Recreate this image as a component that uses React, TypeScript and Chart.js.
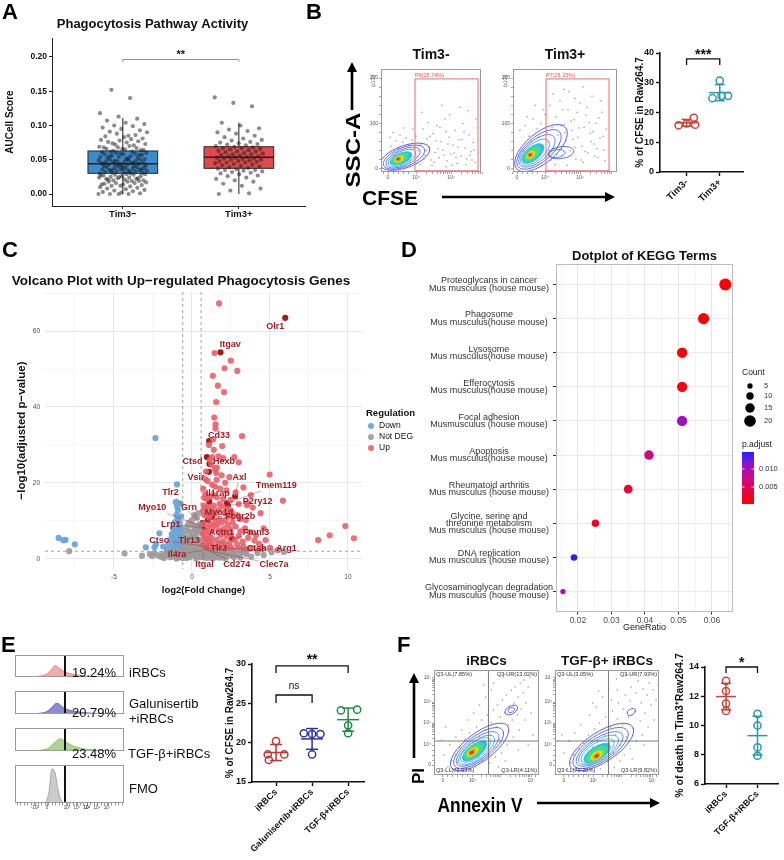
import React, { useEffect, useRef } from 'react';
import { Chart, registerables } from 'chart.js';

Chart.register(...registerables);

const FONT = "'Liberation Sans', Arial, Helvetica, sans-serif";
Chart.defaults.font.family = FONT;
Chart.defaults.color = '#222';

/* ============================ DATA ============================ */

/* ---- Panel A : AUCell phagocytosis scores ---- */
const aTitle = 'Phagocytosis Pathway Activity';
const aCategories = ['Tim3−', 'Tim3+'];
const aYTitle = 'AUCell Score';
const aYTicks = [0, 0.05, 0.1, 0.15, 0.2];
const aTim3NegScores = [
  0.000, 0.000, 0.000, 0.001, 0.002, 0.003, 0.004, 0.005, 0.006, 0.007, 0.008, 0.009, 0.000, 0.010,
  0.011, 0.012, 0.013, 0.014, 0.015, 0.016, 0.016, 0.017, 0.018, 0.018, 0.019, 0.012, 0.014, 0.019, 0.020, 0.020,
  0.021, 0.022, 0.022, 0.023, 0.024, 0.024, 0.025, 0.026, 0.026, 0.027, 0.028, 0.028, 0.029, 0.029, 0.021, 0.023, 0.025, 0.027,
  0.030, 0.031, 0.031, 0.032, 0.032, 0.033, 0.033, 0.034, 0.034, 0.035, 0.035, 0.036, 0.036, 0.037, 0.037, 0.038, 0.038, 0.039, 0.039, 0.040, 0.030, 0.032, 0.034, 0.036, 0.038,
  0.041, 0.041, 0.042, 0.042, 0.043, 0.043, 0.044, 0.044, 0.045, 0.045, 0.046, 0.046, 0.047, 0.047, 0.048, 0.048, 0.049, 0.049, 0.050, 0.050, 0.042, 0.044, 0.046, 0.048,
  0.051, 0.051, 0.052, 0.053, 0.054, 0.054, 0.055, 0.056, 0.057, 0.058, 0.058, 0.059, 0.060, 0.060, 0.052, 0.055, 0.057, 0.059,
  0.061, 0.062, 0.063, 0.064, 0.065, 0.066, 0.067, 0.068, 0.069, 0.070, 0.062, 0.064, 0.066, 0.068,
  0.071, 0.072, 0.073, 0.075, 0.076, 0.077, 0.078, 0.079, 0.080, 0.074,
  0.081, 0.083, 0.084, 0.086, 0.088, 0.090, 0.085,
  0.091, 0.093, 0.095, 0.097, 0.099, 0.100,
  0.102, 0.104, 0.107, 0.110, 0.113, 0.118, 0.140, 0.152,
];
const aTim3PosScores = [
  0.000, 0.001, 0.005, 0.008, 0.012, 0.015, 0.018, 0.020,
  0.022, 0.024, 0.026, 0.027, 0.029, 0.030, 0.031, 0.032, 0.033, 0.034, 0.035, 0.035,
  0.036, 0.037, 0.038, 0.039, 0.040, 0.041, 0.042, 0.043, 0.044, 0.045, 0.046, 0.046, 0.047, 0.048, 0.048, 0.049, 0.050, 0.050,
  0.051, 0.052, 0.052, 0.053, 0.053, 0.054, 0.055, 0.055, 0.056, 0.057, 0.058, 0.058, 0.059, 0.060, 0.061, 0.062, 0.062, 0.063, 0.064, 0.065,
  0.066, 0.067, 0.067, 0.068, 0.069, 0.070, 0.071, 0.072, 0.073, 0.074, 0.075, 0.076, 0.078, 0.079,
  0.081, 0.083, 0.085, 0.088, 0.090, 0.092, 0.094, 0.096, 0.100, 0.104,
  0.128, 0.133, 0.141,
];
const aBoxQ1 = [0.0302, 0.0375];
const aBoxMedian = [0.0442, 0.0536];
const aBoxQ3 = [0.0628, 0.069];
const aWhiskerLow = [0, 0];
const aWhiskerHigh = [0.111, 0.104];
const aBoxColors = ['#3a8ccc', '#df4a4a'];
const aSignif = '**';
const aBracketY = 0.1963;

/* ---- Panel B : CFSE flow + quantification ---- */
const bFlowTitles = ['Tim3-', 'Tim3+'];
const bGateLabels = ['P6(15.74%)', 'P7(26.15%)'];
const bGateX = [[27, 90], [29, 92]];
const bGateY = [-4, 198];
const bCfseMajor = [0, 28, 63];
const bCfseMajorLabels = ['0', '10⁴', '10⁵'];
const bSscMajor = [0, 100, 200];
const bTim3NegEvents = [
  [2, 70], [5, 80], [8, 62], [12, 75], [15, 58], [18, 68], [21, 52], [24, 64], [26, 45], [28, 72], [30, 40], [33, 55], [35, 88], [37, 30],
  [39, 66], [41, 48], [43, 20], [45, 78], [47, 36], [49, 95], [51, 25], [53, 60], [55, 42], [57, 110], [59, 18], [61, 70], [63, 33], [65, 52],
  [67, 85], [69, 12], [71, 64], [73, 28], [75, 100], [77, 46], [79, 22], [81, 75], [83, 38], [85, 58], [87, 15], [89, 90], [32, 10], [36, 22],
  [44, 8], [50, 45], [58, 5], [62, 120], [66, 35], [70, 48], [74, 65], [78, 10], [82, 30], [86, 42], [88, 110], [34, 125], [46, 15], [52, 92],
  [60, 55], [68, 25], [76, 82], [84, 20], [54, 140], [72, 135], [80, 128], [40, 102], [48, 62], [56, 30], [64, 8], [20, 35], [10, 45], [6, 30],
  [16, 90], [25, 88], [3, 50], [9, 20], [13, 10], [22, 18], [29, 28], [38, 40], [42, 72], [58, 82],
];
const bTim3PosEvents = [
  [3, 85], [8, 95], [12, 72], [16, 110], [20, 88], [24, 100], [28, 120], [31, 60], [33, 140], [35, 92], [37, 45], [39, 115], [41, 75], [43, 150],
  [45, 30], [47, 98], [49, 62], [51, 130], [53, 40], [55, 85], [57, 108], [59, 22], [61, 70], [63, 145], [65, 50], [67, 92], [69, 118], [71, 35],
  [73, 78], [75, 160], [77, 55], [79, 100], [81, 25], [83, 68], [85, 125], [87, 42], [89, 88], [34, 20], [38, 10], [42, 55], [46, 130], [50, 8],
  [54, 105], [58, 48], [62, 90], [66, 15], [70, 135], [74, 60], [78, 28], [82, 112], [86, 72], [36, 165], [44, 95], [52, 170], [60, 125], [68, 38],
  [76, 82], [84, 150], [88, 18], [40, 32], [48, 80], [56, 65], [64, 20], [72, 102], [80, 45], [30, 80], [26, 130], [18, 140], [14, 60], [6, 40],
  [10, 115], [22, 70], [32, 40], [47, 175], [66, 180], [58, 155],
];
const bTim3NegContours = [
  { cx: 17, cy: 27, rx: 26, ry: 11, rot: -20, stroke: '#3535f0' },
  { cx: 16, cy: 26, rx: 22, ry: 9.5, rot: -22, stroke: '#3a4cf2' },
  { cx: 15, cy: 25, rx: 18.5, ry: 8, rot: -24, stroke: '#3868f0' },
  { cx: 14, cy: 24, rx: 15, ry: 6.8, rot: -25, stroke: '#2f8cf0' },
  { cx: 13, cy: 23, rx: 12, ry: 5.8, rot: -25, fill: '#33bdea' },
  { cx: 12, cy: 23, rx: 9.5, ry: 4.8, rot: -25, fill: '#36dcb0' },
  { cx: 11.5, cy: 22, rx: 7, ry: 3.8, rot: -25, fill: '#62e048' },
  { cx: 11, cy: 22, rx: 5, ry: 2.9, rot: -25, fill: '#cde52c' },
  { cx: 10.5, cy: 22, rx: 3.2, ry: 2.1, rot: -25, fill: '#ffa020' },
  { cx: 10, cy: 22, rx: 1.8, ry: 1.3, rot: -25, fill: '#ff2a12' },
];
const bTim3PosContours = [
  { cx: 24, cy: 46, rx: 32, ry: 15, rot: -40, stroke: '#3535f0' },
  { cx: 22, cy: 43, rx: 27, ry: 12.5, rot: -40, stroke: '#3a4cf2' },
  { cx: 20, cy: 40, rx: 22, ry: 10.5, rot: -40, stroke: '#3868f0' },
  { cx: 18, cy: 37, rx: 17.5, ry: 8.5, rot: -40, stroke: '#2f8cf0' },
  { cx: 44, cy: 36, rx: 13, ry: 6, rot: -8, stroke: '#3a4cf2' },
  { cx: 40, cy: 34, rx: 8, ry: 4, rot: -8, stroke: '#3868f0' },
  { cx: 16, cy: 34, rx: 13.5, ry: 7, rot: -40, fill: '#33bdea' },
  { cx: 15, cy: 33, rx: 10.5, ry: 5.6, rot: -40, fill: '#36dcb0' },
  { cx: 14, cy: 32, rx: 7.8, ry: 4.3, rot: -40, fill: '#62e048' },
  { cx: 13.5, cy: 31, rx: 5.3, ry: 3.2, rot: -40, fill: '#cde52c' },
  { cx: 13, cy: 31, rx: 3.4, ry: 2.2, rot: -40, fill: '#ffa020' },
  { cx: 13, cy: 31, rx: 1.8, ry: 1.3, rot: -40, fill: '#ff2a12' },
];
const bGroups = ['Tim3-', 'Tim3+'];
const bTim3NegCfse = [15.7, 16.3, 18.2, 15.9];
const bTim3PosCfse = [30.7, 24.8, 25.6, 25.6];
const bSpread = [[-0.24, 0, 0.22, 0.26], [0, -0.22, 0.05, 0.25]];
const bSignif = '***';

/* ---- Panel C : volcano ---- */
const cTitle = 'Volcano Plot with Up−regulated Phagocytosis Genes';
const volcanoFcCutoffs = [-0.585, 0.585];
const volcanoPCutoff = 2;
const volcanoNotDeg = [
  [-7.87, 2.0], [-4.32, 1.4], [-2.55, 0.7], [-2.2, 0.9], [-1.9, 1.3], [-1.7, 0.6], [-1.5, 1.6], [-1.4, 0.4], [-1.3, 1.1], [-1.2, 1.8],
  [-1.1, 0.8], [-1.0, 1.5], [-0.95, 0.3], [-0.9, 1.9], [-0.85, 1.0], [-0.8, 0.5], [-0.75, 1.8], [-0.7, 1.7], [-0.6, 0.2], [-0.55, 1.3],
  [-0.5, 2.2], [-0.45, 3.5], [-0.4, 0.7], [-0.35, 4.2], [-0.3, 1.9], [-0.25, 5.1], [-0.2, 2.8], [-0.15, 0.4], [-0.1, 6.0], [-0.05, 3.6],
  [0.0, 1.2], [0.05, 7.0], [0.1, 4.5], [0.15, 2.3], [0.2, 8.2], [0.25, 5.5], [0.3, 0.8], [0.35, 6.8], [0.4, 3.2], [0.45, 9.0], [0.5, 5.0],
  [0.55, 1.6], [-0.55, 4.8], [-0.5, 6.2], [-0.4, 7.5], [-0.3, 8.6], [-0.2, 9.5], [0.0, 10.2], [0.1, 8.8], [0.6, 0.9], [0.7, 1.4], [0.8, 0.3],
  [0.9, 1.8], [1.0, 0.6], [1.1, 1.2], [1.2, 0.2], [1.3, 1.7], [1.4, 0.8], [1.5, 1.4], [1.6, 0.4], [1.7, 1.9], [1.8, 1.0], [1.9, 0.5],
  [2.0, 1.6], [2.1, 1.1], [2.2, 0.3], [2.4, 1.3], [2.6, 0.7], [2.8, 1.5], [3.0, 0.9], [3.2, 1.8], [3.5, 1.2], [3.8, 0.6], [4.2, 1.5],
  [4.6, 1.0], [5.1, 1.7], [5.9, 1.8], [-1.6, 1.9], [-1.8, 0.2], [-2.0, 0.5], [-0.5, 2.6], [-0.35, 0.2], [0.25, 0.1], [0.45, 1.0],
  [-0.15, 7.2], [0.3, 10.8], [0.15, 11.5], [-0.05, 9.0], [0.4, 12.0],
  [-1.4, 1.8], [-1.25, 0.6], [-1.15, 1.5], [-0.98, 1.2], [-0.88, 0.4], [-0.78, 1.3], [-0.68, 0.9], [-0.58, 1.9], [-0.45, 1.5], [-0.35, 2.7],
  [-0.25, 1.0], [-0.12, 3.2], [0.02, 2.5], [0.12, 3.8], [0.22, 1.7], [0.32, 4.2], [0.42, 2.0], [0.52, 3.0], [0.08, 5.8], [0.28, 7.5],
  [0.48, 7.8], [-0.18, 4.5], [-0.42, 5.5], [0.65, 0.5], [0.75, 1.8], [0.85, 1.1], [0.95, 0.2], [1.05, 1.7], [1.15, 0.7], [1.25, 1.3],
  [1.35, 0.1], [1.45, 1.9], [1.55, 0.9], [1.65, 1.2], [1.75, 0.3], [1.85, 1.6], [1.95, 1.9], [2.05, 0.2], [2.3, 1.8], [2.5, 1.0],
  [2.7, 0.4], [2.9, 1.8], [3.1, 0.3], [3.4, 1.6], [-2.4, 1.5], [-2.7, 1.2], [-3.2, 0.8], [-1.0, 0.1], [0.5, 0.4], [0.15, 0.9],
];
const volcanoDown = [
  [-8.55, 5.5], [-8.25, 4.9], [-8.1, 5.0], [-7.51, 3.8], [-2.34, 31.8], [-0.96, 19.6], [-1.04, 14.9], [-0.74, 14.6], [-0.9, 12.8],
  [-1.0, 11.5], [-0.85, 11.0], [-0.95, 10.2], [-1.1, 9.6], [-0.8, 9.0], [-0.9, 8.2], [-1.05, 7.6], [-0.75, 7.2], [-0.88, 6.6], [-1.15, 6.0],
  [-0.8, 5.6], [-0.95, 5.0], [-1.1, 4.4], [-0.78, 4.2], [-0.9, 3.6], [-1.0, 3.0], [-0.7, 2.6], [-2.09, 6.7], [-2.3, 3.8], [-2.4, 3.0],
  [-2.96, 3.0], [-1.5, 4.0], [-1.35, 5.2], [-1.25, 3.3], [-0.82, 8.6],
  [-0.7, 3.4], [-0.72, 5.0], [-0.76, 6.0], [-0.68, 8.0], [-0.85, 9.8], [-1.2, 8.0], [-1.3, 6.5], [-0.65, 4.4], [-0.95, 13.8], [-0.7, 11.2],
  [-1.2, 2.4], [-1.6, 2.6], [-1.85, 3.2],
];
const volcanoUp = [
  [1.74, 67.3], [1.45, 54.2], [2.49, 52.2], [2.09, 50.2], [2.91, 49.5], [1.34, 48.2], [1.66, 45.6], [2.06, 43.9], [1.55, 41.3], [1.43, 37.2],
  [1.51, 35.4], [1.51, 34.3], [3.21, 32.3], [1.36, 31.4], [1.94, 29.7], [1.4, 28.7], [1.3, 26.8], [1.7, 27.0], [2.72, 26.8], [3.0, 25.4],
  [1.25, 24.8], [1.48, 23.6], [1.55, 22.6], [4.98, 22.2], [2.13, 20.0], [3.3, 18.8], [3.77, 16.8], [5.83, 15.3], [3.53, 14.1], [2.47, 15.5],
  [3.0, 14.4], [3.57, 14.6], [2.55, 12.3], [1.8, 18.5], [1.3, 19.5], [1.0, 20.5], [0.85, 17.0], [1.2, 16.5], [1.6, 16.2], [2.0, 15.8],
  [0.9, 13.5], [1.3, 13.0], [1.7, 12.8], [2.1, 12.0], [2.6, 11.0], [3.1, 10.5], [0.8, 11.5], [1.1, 10.8], [1.5, 10.0], [1.9, 9.6],
  [2.3, 9.0], [2.8, 8.5], [3.4, 8.0], [0.75, 9.2], [1.0, 8.4], [1.3, 7.8], [1.7, 7.5], [2.1, 7.0], [2.5, 6.5], [3.0, 6.0], [3.6, 5.5],
  [4.0, 4.8], [0.7, 6.5], [0.95, 6.0], [1.25, 5.5], [1.6, 5.0], [2.0, 4.6], [2.4, 4.2], [2.9, 3.8], [3.3, 3.2], [3.8, 2.8], [4.3, 3.9],
  [4.72, 4.9], [5.0, 2.9], [5.5, 2.3], [0.68, 4.5], [0.9, 4.0], [1.2, 3.5], [1.5, 3.0], [1.8, 2.6], [2.2, 2.3], [2.7, 2.2], [3.5, 2.4],
  [4.5, 2.6], [0.65, 3.0], [0.8, 2.4], [1.05, 2.2], [8.09, 4.9], [8.83, 6.2], [9.83, 8.6], [10.38, 5.4], [4.2, 2.1], [1.1, 30.0],
  [1.6, 24.0], [2.4, 21.5], [1.9, 22.0], [0.9, 23.0], [2.2, 18.0], [2.8, 17.5], [3.9, 13.5], [4.4, 12.0], [1.4, 14.0], [2.3, 13.2],
  [0.95, 15.8], [1.15, 26.0], [2.0, 26.5],
  [0.7, 12.5], [0.75, 14.0], [0.8, 16.0], [0.72, 18.5], [0.85, 21.0], [0.9, 7.2], [1.0, 5.2], [1.1, 4.8], [1.2, 9.0], [1.35, 11.8],
  [1.45, 8.8], [1.55, 12.0], [1.65, 9.0], [1.75, 10.5], [1.85, 6.2], [1.95, 13.8], [2.05, 8.0], [2.15, 10.2], [2.25, 5.8], [2.35, 11.2],
  [2.45, 7.8], [2.6, 9.6], [2.75, 5.0], [2.9, 11.5], [3.1, 7.2], [3.25, 4.5], [3.45, 10.2], [3.7, 7.0], [4.1, 6.2], [4.6, 8.0],
  [0.66, 7.0], [0.78, 5.5], [0.88, 3.4], [0.98, 11.9], [1.08, 13.6], [1.18, 6.9], [1.28, 4.2], [1.38, 16.8], [1.48, 19.0], [1.58, 20.8],
  [1.68, 3.8], [1.78, 14.5], [1.88, 4.0], [2.5, 3.0], [3.0, 2.8], [2.2, 3.5], [1.4, 2.5], [1.9, 2.2], [2.4, 2.6], [0.95, 2.8],
];
const volcanoGeneNames = ['Olr1', 'Itgav', 'Cd33', 'Ctsd', 'Hexb', 'Vsir', 'Axl', 'Tmem119', 'Tlr2', 'Il1rap', 'P2ry12', 'Myo10', 'Grn', 'Myo1d',
  'Fcgr2b', 'Lrp1', 'Actn1', 'Fmnl3', 'Ctso', 'Tlr13', 'Ctsh', 'Arg1', 'Il4ra', 'Tlr3', 'Itgal', 'Cd274', 'Clec7a'];
const volcanoGeneLog2FC = [5.98, 1.83, 1.10, 0.96, 1.12, 1.09, 2.77, 2.24, 0.64, 1.11, 2.30, 0.60, 0.70, 1.28, 1.03, 0.62, 0.72, 2.56, 0.70,
  0.68, 0.74, 3.19, 0.66, 0.72, 0.70, 0.76, 0.78];
const volcanoGeneNegLogP = [63.5, 54.4, 31.0, 26.8, 25.0, 22.9, 16.5, 14.6, 8.9, 15.0, 14.0, 8.6, 9.4, 11.1, 10.3, 8.2, 8.0, 5.3, 3.4, 3.0,
  2.6, 2.1, 2.2, 3.3, 2.0, 2.8, 2.4];
const volcanoLabelX = [5.34, 2.45, 1.74, 0.04, 2.06, 0.26, 3.04, 5.4, -1.38, 1.66, 4.21, -2.55, -0.19, 1.74, 3.09, -1.36, 1.89, 4.11, -2.09,
  -0.17, 4.15, 6.06, -0.96, 1.72, 0.81, 2.87, 5.26];
const volcanoLabelY = [61.1, 56.5, 32.5, 25.5, 25.5, 21.4, 21.4, 19.3, 17.5, 17.2, 15.2, 13.4, 13.4, 12.3, 11.1, 9.1, 6.9, 6.9, 4.9, 4.9,
  2.7, 2.7, 1.0, 2.7, -1.4, -1.4, -1.4];
const volcanoLegendLabels = ['Down', 'Not DEG', 'Up'];
const volcanoColors = ['rgba(107,165,216,0.95)', 'rgba(155,155,155,0.9)', 'rgba(232,98,106,0.9)'];
const volcanoHighlightColor = '#9e1b1f';
const volcanoXTicks = [-7.5, -5, -2.5, 0, 2.5, 5, 7.5, 10];
const volcanoYTicks = [0, 10, 20, 30, 40, 50, 60, 70];

/* ---- Panel D : KEGG dot plot ---- */
const dTitle = 'Dotplot of KEGG Terms';
const keggTerms = [
  ['Proteoglycans in cancer', 'Mus musculus (house mouse)'],
  ['Phagosome', 'Mus musculus(house mouse)'],
  ['Lysosome', 'Mus musculus(house mouse)'],
  ['Efferocytosis', 'Mus musculus(house mouse)'],
  ['Focal adhesion', 'Musmusculus (house mouse)'],
  ['Apoptosis', 'Mus musculus(house mouse)'],
  ['Rheumatoid arthritis', 'Mus musculus (house mouse)'],
  ['Glycine, serine and', 'threonine metabolism', 'Mus musculus (house mouse)'],
  ['DNA replication', 'Mus musculus (house mouse)'],
  ['Glycosaminoglycan degradation', 'Mus musculus (house mouse)'],
];
const keggGeneRatio = [0.064, 0.0575, 0.0511, 0.0511, 0.0511, 0.0412, 0.035, 0.0252, 0.0188, 0.0155];
const keggCount = [21, 19, 17, 17, 17, 15, 13, 10, 8, 5];
const keggPAdjust = [0.0004, 0.0006, 0.0008, 0.0012, 0.0105, 0.0075, 0.0028, 0.002, 0.0145, 0.0095];
const keggPRange = [0.0003, 0.0147];
const keggPLegendTicks = [0.005, 0.01];
const keggCountLegend = [5, 10, 15, 20];
const keggXTicks = [0.015, 0.02, 0.025, 0.03, 0.035, 0.04, 0.045, 0.05, 0.055, 0.06, 0.065];

/* ---- Panel E : CFSE histograms + quantification ---- */
const eHistSamples = ['iRBCs', 'Galunisertib\n+iRBCs', 'TGF-β+iRBCs', 'FMO'];
const eHistPercents = ['19.24%', '20.79%', '23.48%', ''];
const eHistBins = [5, 10, 15, 20, 25, 28, 31, 34, 37, 40, 43, 46, 49, 52, 55, 58, 62, 66, 70, 75, 80, 85, 90, 100];
const eHistIrbcs = [0, 0.005, 0.01, 0.02, 0.04, 0.07, 0.12, 0.22, 0.38, 0.51, 0.45, 0.34, 0.25, 0.19, 0.15, 0.12, 0.09, 0.07, 0.05, 0.035, 0.025, 0.015, 0.01, 0];
const eHistGalunisertib = [0, 0.005, 0.01, 0.015, 0.03, 0.05, 0.09, 0.17, 0.3, 0.44, 0.46, 0.36, 0.26, 0.2, 0.16, 0.13, 0.1, 0.075, 0.055, 0.04, 0.028, 0.018, 0.01, 0];
const eHistTgf = [0, 0.005, 0.01, 0.02, 0.03, 0.05, 0.08, 0.14, 0.25, 0.38, 0.5, 0.53, 0.45, 0.36, 0.28, 0.22, 0.16, 0.12, 0.085, 0.06, 0.04, 0.025, 0.012, 0];
const eHistFmo = [0, 0, 0, 0, 0, 0, 0.04, 0.3, 0.9, 0.8, 0.35, 0.08, 0.01, 0, 0, 0, 0, 0, 0, 0, 0, 0, 0, 0];
const eHistGate = 50;
const eHistMajor = [20, 32, 52, 62, 72, 82, 92];
const eHistMajorLabels = ['-10²', '0', '10³', '10⁴', '10⁵', '10⁶', '10⁷'];
const eGroups = ['iRBCs', 'Galunisertib+iRBCs', 'TGF-β+iRBCs'];
const eIrbcs = [20.2, 18.5, 18.5, 17.8];
const eGalunisertib = [21.2, 21.1, 21.1, 18.5];
const eTgf = [24.1, 24.2, 22.2, 21.2];
const eSpread = [[0, -0.23, 0.23, -0.2], [-0.23, 0, 0.23, 0], [-0.2, 0.25, 0, 0]];

/* ---- Panel F : Annexin V / PI ---- */
const fFlowTitles = ['iRBCs', 'TGF-β+ iRBCs'];
const fQuadrantLabels = [
  ['Q3-UL(7.85%)', 'Q3-UR(13.02%)', 'Q3-LL(75.03%)', 'Q3-LR(4.11%)'],
  ['Q3-UL(3.05%)', 'Q3-UR(7.93%)', 'Q3-LL(79.20%)', 'Q3-LR(9.82%)'],
];
const fAnnexinGate = [55, 54];
const fPiGate = 34;
const fAnnexinMajor = [9, 39, 68, 98];
const fAnnexinLabels = ['0', '10⁵', '10⁶', '10⁷'];
const fPiMajor = [10, 30, 52, 73, 97];
const fPiLabels = ['0', '10⁴', '10⁵', '10⁶', '10⁷'];
const fIrbcsEvents = [
  [14, 8], [18, 14], [20, 5], [22, 20], [24, 12], [26, 28], [28, 6], [30, 18], [31, 35], [33, 10], [35, 25], [36, 42], [38, 16], [40, 32],
  [42, 8], [43, 48], [45, 22], [46, 38], [48, 55], [49, 14], [51, 30], [52, 45], [54, 60], [55, 20], [57, 40], [58, 52], [60, 65], [61, 28],
  [63, 48], [64, 70], [66, 35], [67, 58], [69, 75], [70, 42], [72, 62], [73, 80], [75, 50], [76, 68], [78, 85], [79, 55], [81, 72], [82, 88],
  [84, 60], [85, 78], [87, 92], [88, 66], [90, 82], [91, 95], [93, 72], [95, 88], [97, 98], [56, 12], [62, 18], [68, 22], [74, 30], [80, 38],
  [86, 45], [92, 55], [98, 62], [34, 55], [40, 62], [46, 70], [52, 78], [58, 85], [28, 45], [22, 38], [16, 30], [10, 20], [8, 35], [12, 48],
  [65, 8], [72, 14], [85, 25], [100, 40], [95, 30], [60, 92], [70, 98], [50, 90],
];
const fTgfEvents = [
  [12, 6], [16, 12], [19, 20], [21, 8], [24, 26], [27, 14], [29, 32], [31, 4], [32, 20], [34, 40], [36, 10], [38, 28], [40, 46], [41, 16],
  [43, 34], [45, 52], [46, 6], [48, 24], [50, 40], [51, 58], [53, 14], [55, 32], [56, 48], [58, 64], [59, 22], [61, 40], [63, 56], [64, 72],
  [66, 30], [68, 50], [69, 66], [71, 80], [72, 38], [74, 58], [76, 74], [77, 88], [79, 46], [81, 64], [82, 82], [84, 94], [86, 54], [87, 72],
  [89, 86], [91, 62], [93, 80], [95, 92], [97, 70], [99, 85], [60, 8], [66, 14], [70, 20], [76, 26], [82, 34], [88, 40], [94, 48], [100, 55],
  [35, 60], [42, 68], [48, 78], [54, 86], [26, 50], [20, 42], [14, 34], [9, 22], [7, 40], [62, 96], [72, 100], [44, 84], [102, 75], [104, 90],
  [90, 30], [78, 16], [57, 75], [63, 85], [38, 72],
];
const fIrbcsContours = [
  { cx: 46, cy: 28, rx: 35, ry: 14, rot: -37, stroke: '#3535f0' },
  { cx: 45, cy: 27, rx: 30, ry: 12, rot: -37, stroke: '#3a4cf2' },
  { cx: 44, cy: 26, rx: 25.5, ry: 10.3, rot: -37, stroke: '#3868f0' },
  { cx: 43, cy: 25, rx: 21.5, ry: 8.8, rot: -37, stroke: '#2f8cf0' },
  { cx: 42, cy: 25, rx: 18, ry: 7.5, rot: -37, stroke: '#2aa8ee' },
  { cx: 78, cy: 65, rx: 7, ry: 4, rot: -30, stroke: '#3535f0' },
  { cx: 78, cy: 65, rx: 3.5, ry: 2.2, rot: -30, stroke: '#3a4cf2' },
  { cx: 41, cy: 24, rx: 15, ry: 6.5, rot: -37, fill: '#33bdea' },
  { cx: 40, cy: 24, rx: 12, ry: 5.3, rot: -37, fill: '#36dcb0' },
  { cx: 39.5, cy: 23.5, rx: 9.3, ry: 4.3, rot: -37, fill: '#62e048' },
  { cx: 39, cy: 23, rx: 6.8, ry: 3.4, rot: -37, fill: '#cde52c' },
  { cx: 38.5, cy: 23, rx: 4.4, ry: 2.5, rot: -37, fill: '#ffa020' },
  { cx: 38, cy: 22.5, rx: 2.4, ry: 1.6, rot: -37, fill: '#ff2a12' },
];
const fTgfContours = [
  { cx: 47, cy: 28, rx: 37, ry: 15, rot: -33, stroke: '#3535f0' },
  { cx: 46, cy: 27, rx: 32, ry: 13, rot: -33, stroke: '#3a4cf2' },
  { cx: 45, cy: 26, rx: 27, ry: 11, rot: -33, stroke: '#3868f0' },
  { cx: 44, cy: 25, rx: 23, ry: 9.5, rot: -33, stroke: '#2f8cf0' },
  { cx: 43, cy: 24, rx: 19, ry: 8, rot: -33, stroke: '#2aa8ee' },
  { cx: 77, cy: 63, rx: 4.5, ry: 3, rot: -30, stroke: '#3535f0' },
  { cx: 42.5, cy: 22, rx: 15.5, ry: 7, rot: -33, fill: '#33bdea' },
  { cx: 42, cy: 21, rx: 12.5, ry: 6, rot: -33, fill: '#36dcb0' },
  { cx: 42, cy: 20, rx: 9.5, ry: 4.9, rot: -33, fill: '#62e048' },
  { cx: 42, cy: 19.5, rx: 6.8, ry: 3.8, rot: -33, fill: '#cde52c' },
  { cx: 42, cy: 19, rx: 4.3, ry: 2.6, rot: -33, fill: '#ffa020' },
  { cx: 42, cy: 19, rx: 2.3, ry: 1.5, rot: -33, fill: '#ff2a12' },
];
const fGroups = ['iRBCs', 'TGF-β+iRBCs'];
const fIrbcsDeath = [13.05, 12.36, 11.5, 11.0];
const fTgfDeath = [10.8, 10.0, 8.5, 7.93];
const fSpread = [[0, 0, 0, 0], [0, 0, 0, 0]];

/* ============================ HELPERS ============================ */

const fixSize = (size: number) => (scale: any) => {
  if (scale.isHorizontal()) scale.height = size;
  else scale.width = size;
  scale.paddingLeft = 0;
  scale.paddingRight = 0;
  scale.paddingTop = 0;
  scale.paddingBottom = 0;
};
const setTicks = (vals: number[]) => (scale: any) => {
  scale.ticks = vals.map((v) => ({ value: v }));
};
const labelFor = (v: number, majors: number[], labels: string[]) => {
  const i = majors.findIndex((m) => Math.abs(m - v) < 1e-9);
  return i >= 0 ? labels[i] : '';
};
const logMinors = (start: number, perDecade: number, decades: number, limit: number) => {
  const out: number[] = [];
  for (let d = 0; d < decades; d++) {
    for (let k = 2; k <= 9; k++) {
      const v = start + perDecade * d + perDecade * Math.log10(k);
      if (v < limit) out.push(Math.round(v * 10) / 10);
    }
  }
  return out;
};
const jitter = (i: number, width: number) => (((i * 0.6180339887) % 1) - 0.5) * width;
const line = (ctx: any, x1: number, y1: number, x2: number, y2: number) => {
  ctx.beginPath();
  ctx.moveTo(x1, y1);
  ctx.lineTo(x2, y2);
  ctx.stroke();
};
const baseOptions = (o: any) => ({
  responsive: false,
  maintainAspectRatio: false,
  animation: false,
  devicePixelRatio: 1,
  events: [],
  ...o,
  plugins: { legend: { display: false }, tooltip: { enabled: false }, ...(o.plugins || {}) },
});

const framePlugin = (id: string, color: string, lw = 1) => ({
  id,
  afterDraw(chart: any) {
    const { ctx, chartArea: a } = chart;
    ctx.save();
    ctx.strokeStyle = color;
    ctx.lineWidth = lw;
    ctx.strokeRect(a.left + 0.5, a.top + 0.5, a.width - 1, a.height - 1);
    ctx.restore();
  },
});

const contourPlugin = (levels: any[]) => ({
  id: 'contours',
  afterDatasetsDraw(chart: any) {
    const { ctx, chartArea: a, scales: { x, y } } = chart;
    ctx.save();
    ctx.beginPath();
    ctx.rect(a.left, a.top, a.width, a.height);
    ctx.clip();
    levels.forEach((l) => {
      ctx.beginPath();
      ctx.ellipse(x.getPixelForValue(l.cx), y.getPixelForValue(l.cy), l.rx, l.ry, (l.rot * Math.PI) / 180, 0, Math.PI * 2);
      if (l.fill) {
        ctx.fillStyle = l.fill;
        ctx.fill();
      }
      if (l.stroke) {
        ctx.strokeStyle = l.stroke;
        ctx.lineWidth = 0.8;
        ctx.stroke();
      }
    });
    ctx.restore();
  },
});

type Bracket = { a: number; b: number; y: number; drop: number; text: string; gap: number; size: number; weight: string; color: string; lw: number };
const bracketPlugin = (list: Bracket[]) => ({
  id: 'brackets',
  afterDatasetsDraw(chart: any) {
    const { ctx, scales: { x, y } } = chart;
    ctx.save();
    list.forEach((br) => {
      const x1 = x.getPixelForValue(br.a);
      const x2 = x.getPixelForValue(br.b);
      const yy = y.getPixelForValue(br.y);
      ctx.strokeStyle = br.color;
      ctx.lineWidth = br.lw;
      ctx.beginPath();
      ctx.moveTo(x1, yy + br.drop);
      ctx.lineTo(x1, yy);
      ctx.lineTo(x2, yy);
      ctx.lineTo(x2, yy + br.drop);
      ctx.stroke();
      ctx.fillStyle = '#111';
      ctx.font = `${br.weight} ${br.size}px ${FONT}`;
      ctx.textAlign = 'center';
      ctx.textBaseline = 'alphabetic';
      ctx.fillText(br.text, (x1 + x2) / 2, yy - br.gap);
    });
    ctx.restore();
  },
});

const meanSdPlugin = (groups: number[][], colors: string[], half: number, cap: number) => ({
  id: 'meanSd',
  afterDatasetsDraw(chart: any) {
    const { ctx, scales: { x, y } } = chart;
    ctx.save();
    groups.forEach((vals, g) => {
      const m = vals.reduce((s, v) => s + v, 0) / vals.length;
      const sd = Math.sqrt(vals.reduce((s, v) => s + (v - m) * (v - m), 0) / (vals.length - 1));
      const cx = x.getPixelForValue(g + 1);
      ctx.strokeStyle = colors[g];
      ctx.lineWidth = 1.5;
      line(ctx, cx - half, y.getPixelForValue(m), cx + half, y.getPixelForValue(m));
      line(ctx, cx, y.getPixelForValue(m - sd), cx, y.getPixelForValue(m + sd));
      line(ctx, cx - cap, y.getPixelForValue(m + sd), cx + cap, y.getPixelForValue(m + sd));
      line(ctx, cx - cap, y.getPixelForValue(m - sd), cx + cap, y.getPixelForValue(m - sd));
    });
    ctx.restore();
  },
});

/* ============================ PANEL A ============================ */
function makeA() {
  const pt = { pointRadius: 2.1, backgroundColor: 'rgba(25,25,25,0.5)', borderWidth: 0 };
  const boxPlugin = {
    id: 'aBoxes',
    beforeDatasetsDraw(chart: any) {
      const { ctx, scales: { x, y } } = chart;
      ctx.save();
      [0, 1].forEach((i) => {
        const cx = x.getPixelForValue(i + 1);
        const half = x.getPixelForValue(i + 1.3) - cx;
        const yq1 = y.getPixelForValue(aBoxQ1[i]);
        const yq3 = y.getPixelForValue(aBoxQ3[i]);
        ctx.strokeStyle = '#333';
        ctx.lineWidth = 1.1;
        line(ctx, cx, y.getPixelForValue(aWhiskerLow[i]), cx, yq1);
        line(ctx, cx, yq3, cx, y.getPixelForValue(aWhiskerHigh[i]));
        ctx.fillStyle = aBoxColors[i];
        ctx.fillRect(cx - half, yq3, half * 2, yq1 - yq3);
        ctx.strokeRect(cx - half, yq3, half * 2, yq1 - yq3);
        ctx.lineWidth = 1.6;
        ctx.strokeStyle = '#222';
        const ym = y.getPixelForValue(aBoxMedian[i]);
        line(ctx, cx - half, ym, cx + half, ym);
      });
      ctx.restore();
    },
  };
  return {
    type: 'scatter',
    data: {
      datasets: [
        { data: aTim3NegScores.map((v, i) => ({ x: 1 + jitter(i, 0.42), y: v })), ...pt },
        { data: aTim3PosScores.map((v, i) => ({ x: 2 + jitter(i + 5, 0.42), y: v })), ...pt },
      ],
    },
    options: baseOptions({
      layout: { padding: { left: 0, right: 40, top: 8, bottom: 0 } },
      plugins: {
        title: { display: true, text: aTitle, color: '#111', font: { size: 13, weight: 'bold' }, padding: { top: 8.2, bottom: 6.2 } },
      },
      scales: {
        x: {
          type: 'linear', min: 0.39, max: 2.57, afterFit: fixSize(19), afterBuildTicks: setTicks([1, 2]),
          ticks: { callback: (v: number) => aCategories[Math.round(v) - 1], font: { size: 9.5, weight: 'bold' }, color: '#111', padding: 0, maxRotation: 0, autoSkip: false },
          grid: { drawOnChartArea: false, tickLength: 3, tickColor: '#222' },
          border: { color: '#222', width: 1 },
        },
        y: {
          min: -0.0175, max: 0.2277, afterFit: fixSize(52), afterBuildTicks: setTicks(aYTicks),
          ticks: { callback: (v: number) => v.toFixed(2), font: { size: 8.5, weight: 'bold' }, color: '#111', padding: 2 },
          grid: { drawOnChartArea: false, tickLength: 3, tickColor: '#222' },
          border: { color: '#222', width: 1 },
          title: { display: true, text: aYTitle, color: '#111', font: { size: 10, weight: 'bold' }, padding: { top: 4, bottom: 0 } },
        },
      },
    }),
    plugins: [
      boxPlugin,
      bracketPlugin([{ a: 1, b: 2, y: aBracketY, drop: 2.5, text: aSignif, gap: 1.3, size: 11, weight: 'bold', color: '#8a8a8a', lw: 0.9 }]),
    ],
  };
}

/* ============================ FLOW PLOTS ============================ */
function flowConfig(p: any) {
  return {
    type: 'scatter',
    data: { datasets: [{ data: p.events.map((e: number[]) => ({ x: e[0], y: e[1] })), pointRadius: 0.75, backgroundColor: 'rgba(60,60,60,0.55)', borderWidth: 0 }] },
    options: baseOptions({
      layout: { padding: p.padding },
      plugins: {
        title: { display: true, text: p.title, fullSize: false, color: '#111', font: { size: p.titleSize, weight: 'bold' }, padding: p.titlePad },
      },
      scales: {
        x: {
          type: 'linear', min: p.xMin, max: p.xMax, afterFit: fixSize(p.xAxisH), afterBuildTicks: setTicks(p.xTicks),
          ticks: { callback: (v: number) => labelFor(v, p.xMajor, p.xLabels), font: { size: 5 }, color: '#555', padding: 1, maxRotation: 0, minRotation: 0, autoSkip: false },
          grid: { drawOnChartArea: false, tickLength: 2, tickWidth: 0.6, tickColor: '#666' },
          border: { display: false },
        },
        y: {
          min: p.yMin, max: p.yMax, afterFit: fixSize(p.yAxisW), afterBuildTicks: setTicks(p.yTicks),
          ticks: { callback: (v: number) => labelFor(v, p.yMajor, p.yLabels), font: { size: 5 }, color: '#555', padding: 1, autoSkip: false },
          grid: { drawOnChartArea: false, tickLength: 2, tickWidth: 0.6, tickColor: '#666' },
          border: { display: false },
        },
      },
    }),
    plugins: [framePlugin('flowFrame', '#9a9a9a', 1), ...p.plugins],
  };
}

function makeCfseFlow(k: number) {
  const gatePlugin = {
    id: 'gate',
    afterDatasetsDraw(chart: any) {
      const { ctx, scales: { x, y }, chartArea: a } = chart;
      const x1 = x.getPixelForValue(bGateX[k][0]);
      const x2 = x.getPixelForValue(bGateX[k][1]);
      const y1 = y.getPixelForValue(bGateY[1]);
      const y2 = y.getPixelForValue(bGateY[0]);
      ctx.save();
      ctx.strokeStyle = '#f26b6b';
      ctx.lineWidth = 1;
      ctx.strokeRect(x1, y1, x2 - x1, y2 - y1);
      ctx.fillStyle = '#e8504f';
      ctx.font = `5.5px ${FONT}`;
      ctx.textAlign = 'left';
      ctx.textBaseline = 'bottom';
      ctx.fillText(bGateLabels[k], x1, y1 - 1);
      ctx.fillStyle = '#555';
      ctx.font = `4.6px ${FONT}`;
      ctx.translate(a.left - 7, a.top + 12);
      ctx.rotate(-Math.PI / 2);
      ctx.textAlign = 'center';
      ctx.textBaseline = 'middle';
      ctx.fillText('(x10³)', 0, 0);
      ctx.restore();
    },
  };
  const ySsc: number[] = [];
  for (let v = 0; v <= 200; v += 20) ySsc.push(v);
  const xTicks = [-5, 0, 5, 10, 15, 20, 28, ...logMinors(28, 35, 2, 96), 63];
  return flowConfig({
    title: bFlowTitles[k], titleSize: 14, titlePad: { top: 0, bottom: 5.6 },
    padding: { left: 0, right: 5, top: 6.6, bottom: 0 },
    events: k ? bTim3PosEvents : bTim3NegEvents,
    xMin: k ? -4 : -7, xMax: k ? 100 : 93, yMin: -6.6, yMax: 219.8,
    xAxisH: 18, yAxisW: 15,
    xTicks, xMajor: bCfseMajor, xLabels: bCfseMajorLabels,
    yTicks: ySsc, yMajor: bSscMajor, yLabels: ['0', '100', '200'],
    plugins: [contourPlugin(k ? bTim3PosContours : bTim3NegContours), gatePlugin],
  });
}

function makeAnnexinFlow(k: number) {
  const quadPlugin = {
    id: 'quadrants',
    afterDatasetsDraw(chart: any) {
      const { ctx, scales: { x, y }, chartArea: a } = chart;
      const qx = x.getPixelForValue(fAnnexinGate[k]);
      const qy = y.getPixelForValue(fPiGate);
      ctx.save();
      ctx.strokeStyle = '#5a5a5a';
      ctx.lineWidth = 0.8;
      line(ctx, qx, a.top, qx, a.bottom);
      line(ctx, a.left, qy, a.right, qy);
      ctx.fillStyle = '#333';
      ctx.font = `5.6px ${FONT}`;
      const L = fQuadrantLabels[k];
      ctx.textBaseline = 'top';
      ctx.textAlign = 'left';
      ctx.fillText(L[0], a.left + 2, a.top + 2);
      ctx.textAlign = 'right';
      ctx.fillText(L[1], a.right - 2, a.top + 2);
      ctx.textBaseline = 'bottom';
      ctx.textAlign = 'left';
      ctx.fillText(L[2], a.left + 2, a.bottom - 2);
      ctx.textAlign = 'right';
      ctx.fillText(L[3], a.right - 2, a.bottom - 2);
      ctx.restore();
    },
  };
  const xTicks = [9, 14, 19, 24, 29, 34, 39, ...logMinors(39, 29.5, 2, 98), 98, 102];
  const yTicks = [10, 15, 20, 25, 30, ...logMinors(30, 22, 1, 52), 52, ...logMinors(52, 21, 1, 73), 73, ...logMinors(73, 24, 1, 97), 97];
  return flowConfig({
    title: fFlowTitles[k], titleSize: 13.5, titlePad: { top: 0, bottom: 0.9 },
    padding: { left: 0, right: 3, top: 7.9, bottom: 0 },
    events: k ? fTgfEvents : fIrbcsEvents,
    xMin: 0, xMax: k ? 105 : 106, yMin: 0, yMax: 105,
    xAxisH: 15, yAxisW: 14,
    xTicks, xMajor: fAnnexinMajor, xLabels: fAnnexinLabels,
    yTicks, yMajor: fPiMajor, yLabels: fPiLabels,
    plugins: [contourPlugin(k ? fTgfContours : fIrbcsContours), quadPlugin],
  });
}

/* ============================ GROUP SCATTERS ============================ */
function groupScatter(p: any) {
  const datasets = p.values.map((vals: number[], g: number) => ({
    data: vals.map((v, i) => ({ x: g + 1 + p.spreads[g][i], y: v })),
    pointRadius: 3.6,
    pointBorderWidth: 1.5,
    pointBorderColor: p.colors[g],
    pointBackgroundColor: 'rgba(255,255,255,0)',
    borderColor: p.colors[g],
    backgroundColor: 'rgba(255,255,255,0)',
  }));
  return {
    type: 'scatter',
    data: { datasets },
    options: baseOptions({
      layout: { padding: p.padding },
      scales: {
        x: {
          type: 'linear', min: p.xMin, max: p.xMax, afterFit: fixSize(p.xAxisH), afterBuildTicks: setTicks(p.labels.map((_: any, i: number) => i + 1)),
          ticks: { callback: (v: number) => p.labels[Math.round(v) - 1], font: { size: p.labelSize, weight: 'bold' }, color: '#111', minRotation: 45, maxRotation: 45, autoSkip: false, padding: 1 },
          grid: { drawOnChartArea: false, tickLength: 4, tickWidth: 1.4, tickColor: '#111' },
          border: { color: '#111', width: 1.6 },
        },
        y: {
          min: p.yMin, max: p.yMax, afterFit: fixSize(p.yAxisW), afterBuildTicks: setTicks(p.yTicks),
          ticks: { font: { size: 9, weight: 'bold' }, color: '#111', padding: 2 },
          grid: { drawOnChartArea: false, tickLength: 4, tickWidth: 1.4, tickColor: '#111' },
          border: { color: '#111', width: 1.6 },
          title: { display: true, text: p.yTitle, color: '#111', font: { size: p.yTitleSize, weight: 'bold' }, padding: { top: p.yTitlePad, bottom: 0 } },
        },
      },
    }),
    plugins: [meanSdPlugin(p.values, p.colors, p.meanHalf, p.capHalf), bracketPlugin(p.brackets)],
  };
}

const makeB = () => groupScatter({
  labels: bGroups, values: [bTim3NegCfse, bTim3PosCfse], spreads: bSpread, colors: ['#c8443a', '#2a98ad'],
  yMin: 0, yMax: 40, yTicks: [0, 10, 20, 30, 40], yTitle: '% of CFSE in Raw264.7', yTitleSize: 10, yTitlePad: 9,
  xMin: 0.2, xMax: 2.7, padding: { left: 0, right: 41, top: 23, bottom: 0 }, yAxisW: 35, xAxisH: 38, labelSize: 9.5,
  meanHalf: 11, capHalf: 5,
  brackets: [{ a: 1, b: 2, y: 38, drop: 6, text: bSignif, gap: 0, size: 14, weight: 'bold', color: '#111', lw: 1.3 }],
});

const makeE = () => groupScatter({
  labels: eGroups, values: [eIrbcs, eGalunisertib, eTgf], spreads: eSpread, colors: ['#c0352f', '#2e3499', '#23884a'],
  yMin: 15, yMax: 30, yTicks: [15, 20, 25, 30], yTitle: '% of CFSE in Raw264.7', yTitleSize: 10, yTitlePad: 2,
  xMin: 0.333, xMax: 3.44, padding: { left: 0, right: 20, top: 34, bottom: 0 }, yAxisW: 30, xAxisH: 78, labelSize: 9,
  meanHalf: 11, capHalf: 6,
  brackets: [
    { a: 1, b: 3, y: 29.75, drop: 7, text: '**', gap: 2, size: 14, weight: 'bold', color: '#111', lw: 1.3 },
    { a: 1, b: 2, y: 26.06, drop: 8, text: 'ns', gap: 6.4, size: 10, weight: 'normal', color: '#111', lw: 1.3 },
  ],
});

const makeF = () => groupScatter({
  labels: fGroups, values: [fIrbcsDeath, fTgfDeath], spreads: fSpread, colors: ['#c8443a', '#2a98ad'],
  yMin: 6, yMax: 14, yTicks: [6, 8, 10, 12, 14], yTitle: '% of death in Tim3⁺Raw264.7', yTitleSize: 10.5, yTitlePad: 5.7,
  xMin: 0.333, xMax: 2.667, padding: { left: 0, right: 2, top: 37, bottom: 0 }, yAxisW: 37, xAxisH: 76, labelSize: 9,
  meanHalf: 10, capHalf: 5,
  brackets: [{ a: 1, b: 2, y: 14, drop: 6, text: '*', gap: 0, size: 14, weight: 'bold', color: '#111', lw: 1.3 }],
});

/* ============================ PANEL C ============================ */
function makeVolcano() {
  const pts = (arr: number[][]) => arr.map((p) => ({ x: p[0], y: p[1] }));
  const extras = {
    id: 'volcanoExtras',
    beforeDatasetsDraw(chart: any) {
      const { ctx, chartArea: a, scales: { x, y } } = chart;
      ctx.save();
      ctx.strokeStyle = '#8c8c8c';
      ctx.lineWidth = 0.8;
      ctx.setLineDash([3, 3]);
      volcanoFcCutoffs.forEach((v) => {
        const px = x.getPixelForValue(v);
        line(ctx, px, a.top, px, a.bottom);
      });
      const py = y.getPixelForValue(volcanoPCutoff);
      line(ctx, a.left, py, a.right, py);
      ctx.restore();
    },
    afterDatasetsDraw(chart: any) {
      const { ctx, chartArea: a, scales: { x, y } } = chart;
      ctx.save();
      ctx.font = `bold 9px ${FONT}`;
      const h = 9;
      volcanoGeneNames.forEach((name, i) => {
        const lx = x.getPixelForValue(volcanoLabelX[i]);
        const ly = y.getPixelForValue(volcanoLabelY[i]);
        const px = x.getPixelForValue(volcanoGeneLog2FC[i]);
        const py = y.getPixelForValue(volcanoGeneNegLogP[i]);
        const w = ctx.measureText(name).width;
        const dx = px - lx;
        const dy = py - ly;
        const tx = dx === 0 ? Infinity : (w / 2 + 1) / Math.abs(dx);
        const ty = dy === 0 ? Infinity : (h / 2 + 1) / Math.abs(dy);
        const t = Math.min(tx, ty);
        if (t < 1) {
          ctx.strokeStyle = 'rgba(175,35,45,0.7)';
          ctx.lineWidth = 0.6;
          line(ctx, lx + dx * t, ly + dy * t, px, py);
        }
      });
      ctx.fillStyle = '#a11c22';
      ctx.textAlign = 'center';
      ctx.textBaseline = 'middle';
      volcanoGeneNames.forEach((name, i) => {
        ctx.fillText(name, x.getPixelForValue(volcanoLabelX[i]), y.getPixelForValue(volcanoLabelY[i]));
      });
      const lx0 = a.right + 4;
      const ly0 = a.top + 121;
      ctx.textAlign = 'left';
      ctx.fillStyle = '#111';
      ctx.font = `bold 9.5px ${FONT}`;
      ctx.fillText('Regulation', lx0, ly0);
      ctx.font = `8.5px ${FONT}`;
      volcanoLegendLabels.forEach((lab, i) => {
        const yy = ly0 + 13 + i * 11;
        ctx.fillStyle = volcanoColors[i];
        ctx.beginPath();
        ctx.arc(lx0 + 5, yy, 3, 0, Math.PI * 2);
        ctx.fill();
        ctx.fillStyle = '#111';
        ctx.fillText(lab, lx0 + 13, yy);
      });
      ctx.restore();
    },
  };
  const isMajorX = (v: number) => Math.abs(v % 5) < 1e-9;
  const isMajorY = (v: number) => Math.abs(v % 20) < 1e-9;
  return {
    type: 'scatter',
    data: {
      datasets: [
        { data: pts(volcanoNotDeg), pointRadius: 3.1, backgroundColor: volcanoColors[1], borderWidth: 0 },
        { data: pts(volcanoDown), pointRadius: 3.1, backgroundColor: volcanoColors[0], borderWidth: 0 },
        { data: pts(volcanoUp), pointRadius: 3.1, backgroundColor: volcanoColors[2], borderWidth: 0 },
        { data: volcanoGeneLog2FC.map((v, i) => ({ x: v, y: volcanoGeneNegLogP[i] })), pointRadius: 3.1, backgroundColor: volcanoHighlightColor, borderWidth: 0 },
      ],
    },
    options: baseOptions({
      layout: { padding: { left: 0, right: 66, top: 0, bottom: 0 } },
      plugins: {
        title: { display: true, text: cTitle, color: '#111', font: { size: 13.5, weight: 'bold' }, padding: { top: 10.9, bottom: 2.9 } },
      },
      scales: {
        x: {
          type: 'linear', min: -9.42, max: 10.9, afterFit: fixSize(31), afterBuildTicks: setTicks(volcanoXTicks),
          ticks: { callback: (v: number) => (isMajorX(v) ? String(v) : ''), font: { size: 6.5 }, color: '#4d4d4d', padding: 4, maxRotation: 0, autoSkip: false },
          grid: { drawTicks: false, color: (c: any) => (c.tick && isMajorX(c.tick.value) ? '#e3e3e3' : '#f2f2f2'), lineWidth: (c: any) => (c.tick && isMajorX(c.tick.value) ? 0.9 : 0.6) },
          border: { display: false },
          title: { display: true, text: 'log2(Fold Change)', color: '#111', font: { size: 9.5, weight: 'bold' }, padding: { top: 0, bottom: 4.3 } },
        },
        y: {
          min: -2.7, max: 70.3, afterFit: fixSize(45), afterBuildTicks: setTicks(volcanoYTicks),
          ticks: { callback: (v: number) => (isMajorY(v) ? String(v) : ''), font: { size: 6.5 }, color: '#4d4d4d', padding: 5, autoSkip: false },
          grid: { drawTicks: false, color: (c: any) => (c.tick && isMajorY(c.tick.value) ? '#e3e3e3' : '#f2f2f2'), lineWidth: (c: any) => (c.tick && isMajorY(c.tick.value) ? 0.9 : 0.6) },
          border: { display: false },
          title: { display: true, text: '−log10(adjusted p−value)', color: '#111', font: { size: 11.5, weight: 'bold' }, padding: { top: 15.1, bottom: 0 } },
        },
      },
    }),
    plugins: [extras],
  };
}

/* ============================ PANEL D ============================ */
const pStops: [number, number[]][] = [[0, [255, 0, 0]], [0.5, [204, 10, 133]], [0.75, [150, 16, 200]], [1, [34, 34, 255]]];
function pColor(p: number) {
  const t = Math.max(0, Math.min(1, (p - keggPRange[0]) / (keggPRange[1] - keggPRange[0])));
  for (let i = 1; i < pStops.length; i++) {
    if (t <= pStops[i][0]) {
      const [t0, c0] = pStops[i - 1];
      const [t1, c1] = pStops[i];
      const f = (t - t0) / (t1 - t0);
      const c = c0.map((v, j) => Math.round(v + (c1[j] - v) * f));
      return `rgb(${c[0]},${c[1]},${c[2]})`;
    }
  }
  return 'rgb(34,34,255)';
}
const countRadius = (c: number) => 1.6 + 0.21 * c;

function makeKegg() {
  const isMajor = (v: number) => Math.abs(v * 100 - Math.round(v * 100)) < 1e-6;
  const extras = {
    id: 'keggExtras',
    afterDraw(chart: any) {
      const { ctx, chartArea: a } = chart;
      ctx.save();
      ctx.strokeStyle = '#bdbdbd';
      ctx.lineWidth = 1;
      ctx.strokeRect(a.left + 0.5, a.top + 0.5, a.width - 1, a.height - 1);
      const lx = a.right + 9;
      ctx.fillStyle = '#222';
      ctx.font = `8.5px ${FONT}`;
      ctx.textAlign = 'left';
      ctx.textBaseline = 'middle';
      ctx.fillText('Count', lx, a.top + 109);
      const ys = [122, 132, 144, 157];
      keggCountLegend.forEach((c, i) => {
        ctx.fillStyle = '#000';
        ctx.beginPath();
        ctx.arc(lx + 8, a.top + ys[i], countRadius(c), 0, Math.PI * 2);
        ctx.fill();
        ctx.fillStyle = '#333';
        ctx.font = `7.5px ${FONT}`;
        ctx.fillText(String(c), lx + 22, a.top + ys[i]);
      });
      ctx.fillStyle = '#222';
      ctx.font = `8.5px ${FONT}`;
      ctx.fillText('p.adjust', lx, a.top + 181);
      const top = a.top + 188;
      const bot = a.top + 240;
      const g = ctx.createLinearGradient(0, bot, 0, top);
      pStops.forEach(([t, c]) => g.addColorStop(t, `rgb(${c[0]},${c[1]},${c[2]})`));
      ctx.fillStyle = g;
      ctx.fillRect(lx, top, 12, bot - top);
      keggPLegendTicks.forEach((p) => {
        const yy = bot - ((p - keggPRange[0]) / (keggPRange[1] - keggPRange[0])) * (bot - top);
        ctx.strokeStyle = '#fff';
        ctx.lineWidth = 0.8;
        line(ctx, lx, yy, lx + 2.5, yy);
        line(ctx, lx + 9.5, yy, lx + 12, yy);
        ctx.fillStyle = '#333';
        ctx.font = `7.5px ${FONT}`;
        ctx.fillText(p.toFixed(3), lx + 17, yy);
      });
      ctx.restore();
    },
  };
  return {
    type: 'scatter',
    data: {
      datasets: [{
        data: keggGeneRatio.map((g, i) => ({ x: g, y: i + 1 })),
        pointRadius: (c: any) => countRadius(keggCount[c.dataIndex] ?? 10),
        backgroundColor: (c: any) => pColor(keggPAdjust[c.dataIndex] ?? 0.005),
        borderWidth: 0,
      }],
    },
    options: baseOptions({
      layout: { padding: { left: 0, right: 51, top: 0, bottom: 0 } },
      plugins: {
        title: { display: true, text: dTitle, fullSize: false, color: '#111', font: { size: 13, weight: 'bold' }, padding: { top: 8.4, bottom: 0 } },
      },
      scales: {
        x: {
          type: 'linear', min: 0.01343, max: 0.0663, afterFit: fixSize(28), afterBuildTicks: setTicks(keggXTicks),
          ticks: { callback: (v: number) => (isMajor(v) ? v.toFixed(2) : ''), font: { size: 8.5 }, color: '#4d4d4d', padding: 1, maxRotation: 0, autoSkip: false },
          grid: {
            color: (c: any) => (c.tick && isMajor(c.tick.value) ? '#e6e6e6' : '#f3f3f3'),
            tickLength: 2.5,
            tickColor: (c: any) => (c.tick && isMajor(c.tick.value) ? '#333' : 'rgba(0,0,0,0)'),
          },
          border: { display: false },
          title: { display: true, text: 'GeneRatio', color: '#222', font: { size: 9 }, padding: { top: 0, bottom: 6.6 } },
        },
        y: {
          type: 'linear', reverse: true, min: 0.4, max: 10.6, afterFit: fixSize(156), afterBuildTicks: setTicks([1, 2, 3, 4, 5, 6, 7, 8, 9, 10]),
          ticks: { callback: (v: number) => keggTerms[Math.round(v) - 1], font: { size: 9, lineHeight: 0.8 }, color: '#333', crossAlign: 'center', padding: 0, autoSkip: false },
          grid: { color: '#ebebeb', tickLength: 3, tickColor: '#333' },
          border: { display: false },
        },
      },
    }),
    plugins: [extras],
  };
}

/* ============================ PANEL E histograms ============================ */
const eHistDensity = [eHistIrbcs, eHistGalunisertib, eHistTgf, eHistFmo];
const eHistFill = ['rgba(247,160,160,0.9)', 'rgba(128,128,200,0.9)', 'rgba(165,206,135,0.9)', 'rgba(200,200,200,0.95)'];
const eHistLine = ['#f08a8a', '#6b6bc0', '#8cc46c', '#a8a8a8'];

function makeHist(k: number) {
  const last = k === 3;
  const gatePlugin = {
    id: 'histGate',
    afterDatasetsDraw(chart: any) {
      const { ctx, chartArea: a, scales: { x } } = chart;
      ctx.save();
      ctx.strokeStyle = '#111';
      ctx.lineWidth = 2;
      const px = x.getPixelForValue(eHistGate);
      line(ctx, px, a.top, px, a.bottom);
      ctx.restore();
    },
  };
  const tickPos: number[] = [];
  for (let v = 2; v <= 107; v += 3.5) tickPos.push(Math.round(v * 10) / 10);
  return {
    type: 'line',
    data: {
      datasets: [{
        data: eHistBins.map((b, i) => ({ x: b, y: eHistDensity[k][i] })),
        fill: 'origin', backgroundColor: eHistFill[k], borderColor: eHistLine[k], borderWidth: 1, pointRadius: 0, cubicInterpolationMode: 'monotone',
      }],
    },
    options: baseOptions({
      layout: { padding: 0 },
      scales: {
        x: {
          type: 'linear', min: 0, max: 109, display: last, afterFit: fixSize(14), afterBuildTicks: setTicks([...tickPos, ...eHistMajor].sort((p, q) => p - q)),
          ticks: { callback: (v: number) => labelFor(v, eHistMajor, eHistMajorLabels), font: { size: 4.5 }, color: '#444', padding: 0, maxRotation: 0, autoSkip: false },
          grid: { drawOnChartArea: false, tickLength: 2.5, tickWidth: 0.6, tickColor: '#555' },
          border: { display: false },
        },
        y: { min: 0, max: 1, display: false },
      },
    }),
    plugins: [gatePlugin, framePlugin('histFrame', '#9c9c9c', 1)],
  };
}

/* ============================ OVERLAY ============================ */
function Arrow({ x1, y1, x2, y2 }: { x1: number; y1: number; x2: number; y2: number }) {
  const ang = Math.atan2(y2 - y1, x2 - x1);
  const L = 10;
  const W = 5;
  const bx = x2 - L * Math.cos(ang);
  const by = y2 - L * Math.sin(ang);
  const px = -Math.sin(ang) * W;
  const py = Math.cos(ang) * W;
  return (
    <g>
      <line x1={x1} y1={y1} x2={bx} y2={by} stroke="#000" strokeWidth={2.6} />
      <polygon points={`${x2},${y2} ${bx + px},${by + py} ${bx - px},${by - py}`} fill="#000" />
    </g>
  );
}

function Overlay() {
  const big = { fontFamily: FONT, fontWeight: 'bold' as const, fill: '#000' };
  const reg = { fontFamily: FONT, fill: '#111' };
  return (
    <svg width={784} height={860} style={{ position: 'absolute', left: 0, top: 0, pointerEvents: 'none' }}>
      <text x={2} y={19} fontSize={22} {...big}>A</text>
      <text x={306} y={19} fontSize={22} {...big}>B</text>
      <text x={2} y={257} fontSize={22} {...big}>C</text>
      <text x={401} y={257} fontSize={22} {...big}>D</text>
      <text x={1} y={652} fontSize={22} {...big}>E</text>
      <text x={397} y={652} fontSize={22} {...big}>F</text>

      <text transform="translate(360,150) rotate(-90)" textAnchor="middle" fontSize={21} textLength={75} lengthAdjust="spacingAndGlyphs" {...big}>SSC-A</text>
      <Arrow x1={352} y1={110} x2={352} y2={62} />
      <text x={390} y={204.5} textAnchor="middle" fontSize={21} {...big}>CFSE</text>
      <Arrow x1={442} y1={197} x2={615} y2={197} />

      <text transform="translate(424,776) rotate(-90)" textAnchor="middle" fontSize={17} {...big}>PI</text>
      <Arrow x1={414} y1={758} x2={414} y2={673} />
      <text x={480} y={812} textAnchor="middle" fontSize={21} textLength={85} lengthAdjust="spacingAndGlyphs" {...big}>Annexin V</text>
      <Arrow x1={537} y1={803} x2={660} y2={803} />

      {eHistPercents.map((t, i) => (t ? <text key={'p' + i} x={94} y={[677, 717, 758][i]} textAnchor="middle" fontSize={13} {...reg}>{t}</text> : null))}
      <text x={129} y={677} fontSize={13} {...reg}>{eHistSamples[0]}</text>
      <text x={129} y={708} fontSize={13} {...reg}>{eHistSamples[1].split('\n')[0]}</text>
      <text x={129} y={723} fontSize={13} {...reg}>{eHistSamples[1].split('\n')[1]}</text>
      <text x={128} y={758} fontSize={13} {...reg}>{eHistSamples[2]}</text>
      <text x={129} y={793} fontSize={13} {...reg}>{eHistSamples[3]}</text>
    </svg>
  );
}

/* ============================ COMPONENTS ============================ */
function ChartBox(props: { left: number; top: number; width: number; height: number; make: () => any }) {
  const ref = useRef<HTMLCanvasElement | null>(null);
  useEffect(() => {
    if (!ref.current) return undefined;
    const chart = new Chart(ref.current, props.make());
    return () => chart.destroy();
  }, []);
  const { left, top, width, height } = props;
  return <canvas ref={ref} width={width} height={height} style={{ position: 'absolute', left, top, width, height, display: 'block' }} />;
}

const histRowTops = [655, 691, 728, 765];
const histRowHeights = [36, 37, 37, 38];

export default function App() {
  return (
    <div style={{ position: 'absolute', left: 0, top: 0, width: 784, height: 860, background: '#fff', overflow: 'hidden' }}>
      <ChartBox left={0} top={0} width={345} height={225} make={makeA} />
      <ChartBox left={366} top={40} width={120} height={150} make={() => makeCfseFlow(0)} />
      <ChartBox left={498} top={40} width={124} height={150} make={() => makeCfseFlow(1)} />
      <ChartBox left={625} top={30} width={159} height={180} make={makeB} />
      <ChartBox left={0} top={262} width={428} height={338} make={makeVolcano} />
      <ChartBox left={400} top={240} width={384} height={400} make={makeKegg} />
      {histRowTops.map((t, k) => (
        <ChartBox key={'h' + k} left={15} top={t} width={109} height={histRowHeights[k] + (k === 3 ? 14 : 0)} make={() => makeHist(k)} />
      ))}
      <ChartBox left={222} top={630} width={162} height={230} make={makeE} />
      <ChartBox left={420} top={645} width={123} height={145} make={() => makeAnnexinFlow(0)} />
      <ChartBox left={541} top={645} width={122} height={145} make={() => makeAnnexinFlow(1)} />
      <ChartBox left={668} top={630} width={116} height={230} make={makeF} />
      <Overlay />
    </div>
  );
}
